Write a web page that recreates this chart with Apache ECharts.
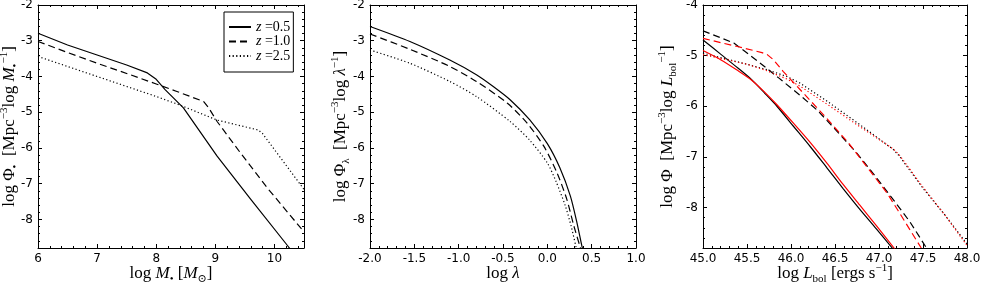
<!DOCTYPE html>
<html>
<head>
<meta charset="utf-8">
<script src="https://cdn.jsdelivr.net/npm/echarts@6/dist/echarts.min.js"></script>
<style>
html,body{margin:0;padding:0;background:#fff;}
#c{width:981px;height:285px;}
</style>
</head>
<body>
<div id="c"></div>
<script>
// ---------- DATA ----------
// Panel 1: black hole mass function, x = log M
const p1_z05_x = [6.0, 6.5, 7.0, 7.5, 7.85, 8.0, 8.15, 8.46, 9.03, 9.6, 10.22, 10.26];
const p1_z05_y = [-2.79, -3.12, -3.4, -3.68, -3.9, -4.08, -4.37, -4.88, -6.23, -7.44, -8.73, -8.82];
const p1_z10_x = [6.0, 6.5, 7.0, 7.56, 8.0, 8.35, 8.8, 8.88, 9.03, 9.43, 9.88, 10.5];
const p1_z10_y = [-3.02, -3.33, -3.63, -3.95, -4.21, -4.42, -4.7, -4.86, -5.26, -6.15, -7.12, -8.35];
const p1_z25_x = [6.0, 7.0, 8.0, 8.4, 9.03, 9.73, 9.8, 10.5];
const p1_z25_y = [-3.44, -4.0, -4.56, -4.8, -5.22, -5.5, -5.6, -7.16];
const p1_labels = ['z=0.5', 'z=1.0', 'z=2.5'];

// Panel 2: Eddington ratio distribution, x = log lambda
const p2_z05_x = [-2.0, -1.55, -1.1, -0.8, -0.61, -0.42, -0.2, 0.0, 0.14, 0.26, 0.33, 0.39, 0.41];
const p2_z05_y = [-2.6, -3.02, -3.54, -3.95, -4.28, -4.65, -5.21, -5.88, -6.55, -7.35, -8.05, -8.75, -8.95];
const p2_z10_x = [-2.0, -1.55, -1.1, -0.8, -0.45, -0.23, -0.04, 0.11, 0.22, 0.3, 0.38];
const p2_z10_y = [-2.81, -3.24, -3.72, -4.14, -4.75, -5.3, -5.95, -6.7, -7.44, -8.19, -8.85];
const p2_z25_x = [-2.0, -1.55, -1.1, -0.8, -0.42, -0.2, 0.0, 0.1, 0.2, 0.27, 0.33];
const p2_z25_y = [-3.26, -3.63, -4.14, -4.56, -5.26, -5.78, -6.42, -6.95, -7.6, -8.2, -8.85];

// Panel 3: bolometric luminosity function, x = log L_bol (black / red)
const p3_z05_black_x = [45.0, 45.2, 45.4, 45.55, 45.7, 45.84, 46.03, 46.22, 46.41, 46.59, 46.78, 46.97, 47.16];
const p3_z05_black_y = [-4.69, -4.97, -5.25, -5.47, -5.74, -6.0, -6.4, -6.8, -7.22, -7.62, -8.03, -8.42, -8.82];
const p3_z05_red_x = [45.0, 45.2, 45.4, 45.55, 45.7, 45.84, 46.03, 46.22, 46.41, 46.59, 46.78, 46.97, 47.18];
const p3_z05_red_y = [-4.9, -5.08, -5.3, -5.48, -5.72, -5.97, -6.34, -6.72, -7.13, -7.54, -7.95, -8.36, -8.82];
const p3_z10_black_x = [45.0, 45.35, 45.63, 45.86, 46.1, 46.3, 46.5, 46.75, 46.93, 47.16, 47.35, 47.54];
const p3_z10_black_y = [-4.51, -4.75, -5.12, -5.44, -5.78, -6.08, -6.45, -6.93, -7.32, -7.84, -8.28, -8.8];
const p3_z10_red_x = [45.0, 45.39, 45.67, 45.73, 45.8, 45.91, 46.14, 46.37, 46.65, 46.9, 47.09, 47.22, 47.48];
const p3_z10_red_y = [-4.66, -4.82, -4.94, -4.98, -5.08, -5.31, -5.74, -6.17, -6.72, -7.28, -7.71, -8.07, -8.8];
const p3_z25_black_x = [45.0, 45.27, 45.5, 45.73, 45.95, 46.1, 46.41, 46.78, 47.16, 47.23, 47.5, 47.75, 48.0];
const p3_z25_black_y = [-4.95, -5.07, -5.17, -5.28, -5.41, -5.54, -5.9, -6.36, -6.85, -6.98, -7.62, -8.15, -8.72];
const p3_z25_red_x = [45.0, 45.27, 45.5, 45.73, 45.95, 46.1, 46.41, 46.78, 47.16, 47.23, 47.5, 47.75, 48.0];
const p3_z25_red_y = [-4.98, -5.08, -5.17, -5.3, -5.46, -5.6, -5.96, -6.4, -6.84, -6.96, -7.6, -8.15, -8.75];

// Tick labels
const p1_xticks = [6, 7, 8, 9, 10];
const p2_xticks = [-2.0, -1.5, -1.0, -0.5, 0.0, 0.5, 1.0];
const p3_xticks = [45.0, 45.5, 46.0, 46.5, 47.0, 47.5, 48.0];
const p12_yticks = [-8, -7, -6, -5, -4, -3, -2];
const p3_yticks = [-8, -7, -6, -5, -4];

// ---------- BUILD ----------
const SERIF = "'Liberation Serif','DejaVu Serif',serif";
const SANS = "'DejaVu Sans',sans-serif";
const zip = (xs, ys) => xs.map((x, i) => [x, ys[i]]);

const R = {
  n: {fontFamily: SERIF, fontSize: 17, color: '#000', lineHeight: 22},
  i: {fontFamily: SERIF, fontSize: 17, fontStyle: 'italic', color: '#000', lineHeight: 22},
  sub: {fontFamily: SERIF, fontSize: 11, color: '#000', lineHeight: 11, verticalAlign: 'bottom'},
  sup: {fontFamily: SERIF, fontSize: 11, color: '#000', lineHeight: 11, verticalAlign: 'top'}
};

const grids = [
  {left: 38, top: 5, width: 266, height: 243, containLabel: false, outerBoundsMode: 'none'},
  {left: 370, top: 5, width: 266, height: 243, containLabel: false, outerBoundsMode: 'none'},
  {left: 703, top: 5, width: 264, height: 243, containLabel: false, outerBoundsMode: 'none'}
];

const xAxes = [], yAxes = [];
const tickStyle = {color: '#000', width: 1};

function addAxes(list, grid, pos, min, max, majors, minorStep, withLabels, fmt, name, nameGap, nameRotate) {
  list.push({
    type: 'value', gridIndex: grid, position: pos, min: min, max: max, interval: minorStep,
    axisLine: {show: true, onZero: false, lineStyle: {color: '#000', width: 1}},
    axisTick: {show: true, inside: true, length: 2, lineStyle: tickStyle},
    axisLabel: {show: false}, splitLine: {show: false}, silent: true
  });
  const ax = {
    type: 'value', gridIndex: grid, position: pos, min: min, max: max,
    axisLine: {show: false, onZero: false},
    axisTick: {show: true, inside: true, length: 4, customValues: majors, lineStyle: tickStyle},
    axisLabel: {show: withLabels, customValues: majors, formatter: fmt, color: '#000',
                fontFamily: SANS, fontSize: 12, margin: 5, showMinLabel: true, showMaxLabel: true},
    splitLine: {show: false}, silent: true
  };
  if (name) {
    ax.name = name;
    ax.nameLocation = 'middle';
    ax.nameGap = nameGap;
    ax.nameMoveOverlap = false;
    if (nameRotate !== undefined) ax.nameRotate = nameRotate;
    ax.nameTextStyle = {rich: R, color: '#000'};
  }
  list.push(ax);
  return list.length - 1;
}

const fInt = v => String(Math.round(v));
const f1 = v => v.toFixed(1);

// Panel 1
const x1 = addAxes(xAxes, 0, 'bottom', 6, 10.5, p1_xticks, 0.2, true, fInt,
  '{n|log }{i|M}{sub|•}{n| [}{i|M}{sub|⊙}{n|]}', 15);
addAxes(xAxes, 0, 'top', 6, 10.5, p1_xticks, 0.2, false, fInt);
const y1 = addAxes(yAxes, 0, 'left', -8.8, -2, p12_yticks, 0.2, true, fInt,
  '{n|log Φ}{sub|•}{n|  [Mpc}{sup|−3}{n|log }{i|M}{sub|•}{sup|−1}{n|]}', 17, 90);
addAxes(yAxes, 0, 'right', -8.8, -2, p12_yticks, 0.2, false, fInt);

// Panel 2
const x2 = addAxes(xAxes, 1, 'bottom', -2, 1, p2_xticks, 0.1, true, f1,
  '{n|log }{i|λ}', 15);
addAxes(xAxes, 1, 'top', -2, 1, p2_xticks, 0.1, false, f1);
const y2 = addAxes(yAxes, 1, 'left', -8.8, -2, p12_yticks, 0.2, true, fInt,
  '{n|log Φ}{sub|λ}{n|  [Mpc}{sup|−3}{n|log }{i|λ}{sup|−1}{n|]}', 18, 90);
addAxes(yAxes, 1, 'right', -8.8, -2, p12_yticks, 0.2, false, fInt);

// Panel 3
const x3 = addAxes(xAxes, 2, 'bottom', 45, 48, p3_xticks, 0.1, true, f1,
  '{n|log }{i|L}{sub|bol}{n| [ergs s}{sup|−1}{n|]}', 15);
addAxes(xAxes, 2, 'top', 45, 48, p3_xticks, 0.1, false, f1);
const y3 = addAxes(yAxes, 2, 'left', -8.8, -4, p3_yticks, 0.2, true, fInt,
  '{n|log Φ  [Mpc}{sup|−3}{n|log }{i|L}{sub|bol}{sup|−1}{n|]}', 24, 90);
addAxes(yAxes, 2, 'right', -8.8, -4, p3_yticks, 0.2, false, fInt);

const DASH = [7, 4];
const DOT = [1.2, 2.4];
function line(name, xi, yi, xs, ys, color, type, smooth) {
  return {
    type: 'line', name: name, xAxisIndex: xi, yAxisIndex: yi,
    data: zip(xs, ys), symbol: 'none', showSymbol: false,
    smooth: smooth ? 0.25 : false,
    lineStyle: {color: color, width: 1.2, type: type},
    itemStyle: {color: color},
    clip: true, silent: true, z: 3
  };
}

const series = [
  line(p1_labels[0], x1, y1, p1_z05_x, p1_z05_y, '#000', 'solid', false),
  line(p1_labels[1], x1, y1, p1_z10_x, p1_z10_y, '#000', DASH, false),
  line(p1_labels[2], x1, y1, p1_z25_x, p1_z25_y, '#000', DOT, false),

  line('p2a', x2, y2, p2_z05_x, p2_z05_y, '#000', 'solid', true),
  line('p2b', x2, y2, p2_z10_x, p2_z10_y, '#000', DASH, true),
  line('p2c', x2, y2, p2_z25_x, p2_z25_y, '#000', DOT, true),

  line('p3a', x3, y3, p3_z05_black_x, p3_z05_black_y, '#000', 'solid', true),
  line('p3b', x3, y3, p3_z10_black_x, p3_z10_black_y, '#000', DASH, false),
  line('p3c', x3, y3, p3_z25_black_x, p3_z25_black_y, '#000', DOT, false),
  line('p3d', x3, y3, p3_z05_red_x, p3_z05_red_y, '#ff0000', 'solid', true),
  line('p3e', x3, y3, p3_z10_red_x, p3_z10_red_y, '#ff0000', DASH, false),
  line('p3f', x3, y3, p3_z25_red_x, p3_z25_red_y, '#ff0000', DOT, false)
];

const chart = echarts.init(document.getElementById('c'), null, {renderer: 'canvas'});
chart.setOption({
  animation: false,
  backgroundColor: '#fff',
  grid: grids,
  xAxis: xAxes,
  yAxis: yAxes,
  legend: {
    data: p1_labels,
    left: 224, top: 12,
    orient: 'vertical',
    itemWidth: 22, itemHeight: 7, itemGap: 0.5,
    padding: [8, 3, 9, 4],
    borderColor: '#000', borderWidth: 1, backgroundColor: '#fff',
    selectedMode: false,
    itemStyle: {opacity: 0},
    formatter: name => '{i|z}{n| =' + name.slice(2) + '}',
    textStyle: {
      color: '#000', lineHeight: 9,
      rich: {
        i: {fontFamily: SERIF, fontSize: 14, fontStyle: 'italic', color: '#000', lineHeight: 9},
        n: {fontFamily: SERIF, fontSize: 14, color: '#000', lineHeight: 9}
      }
    }
  },
  series: series
});
</script>
</body>
</html>
